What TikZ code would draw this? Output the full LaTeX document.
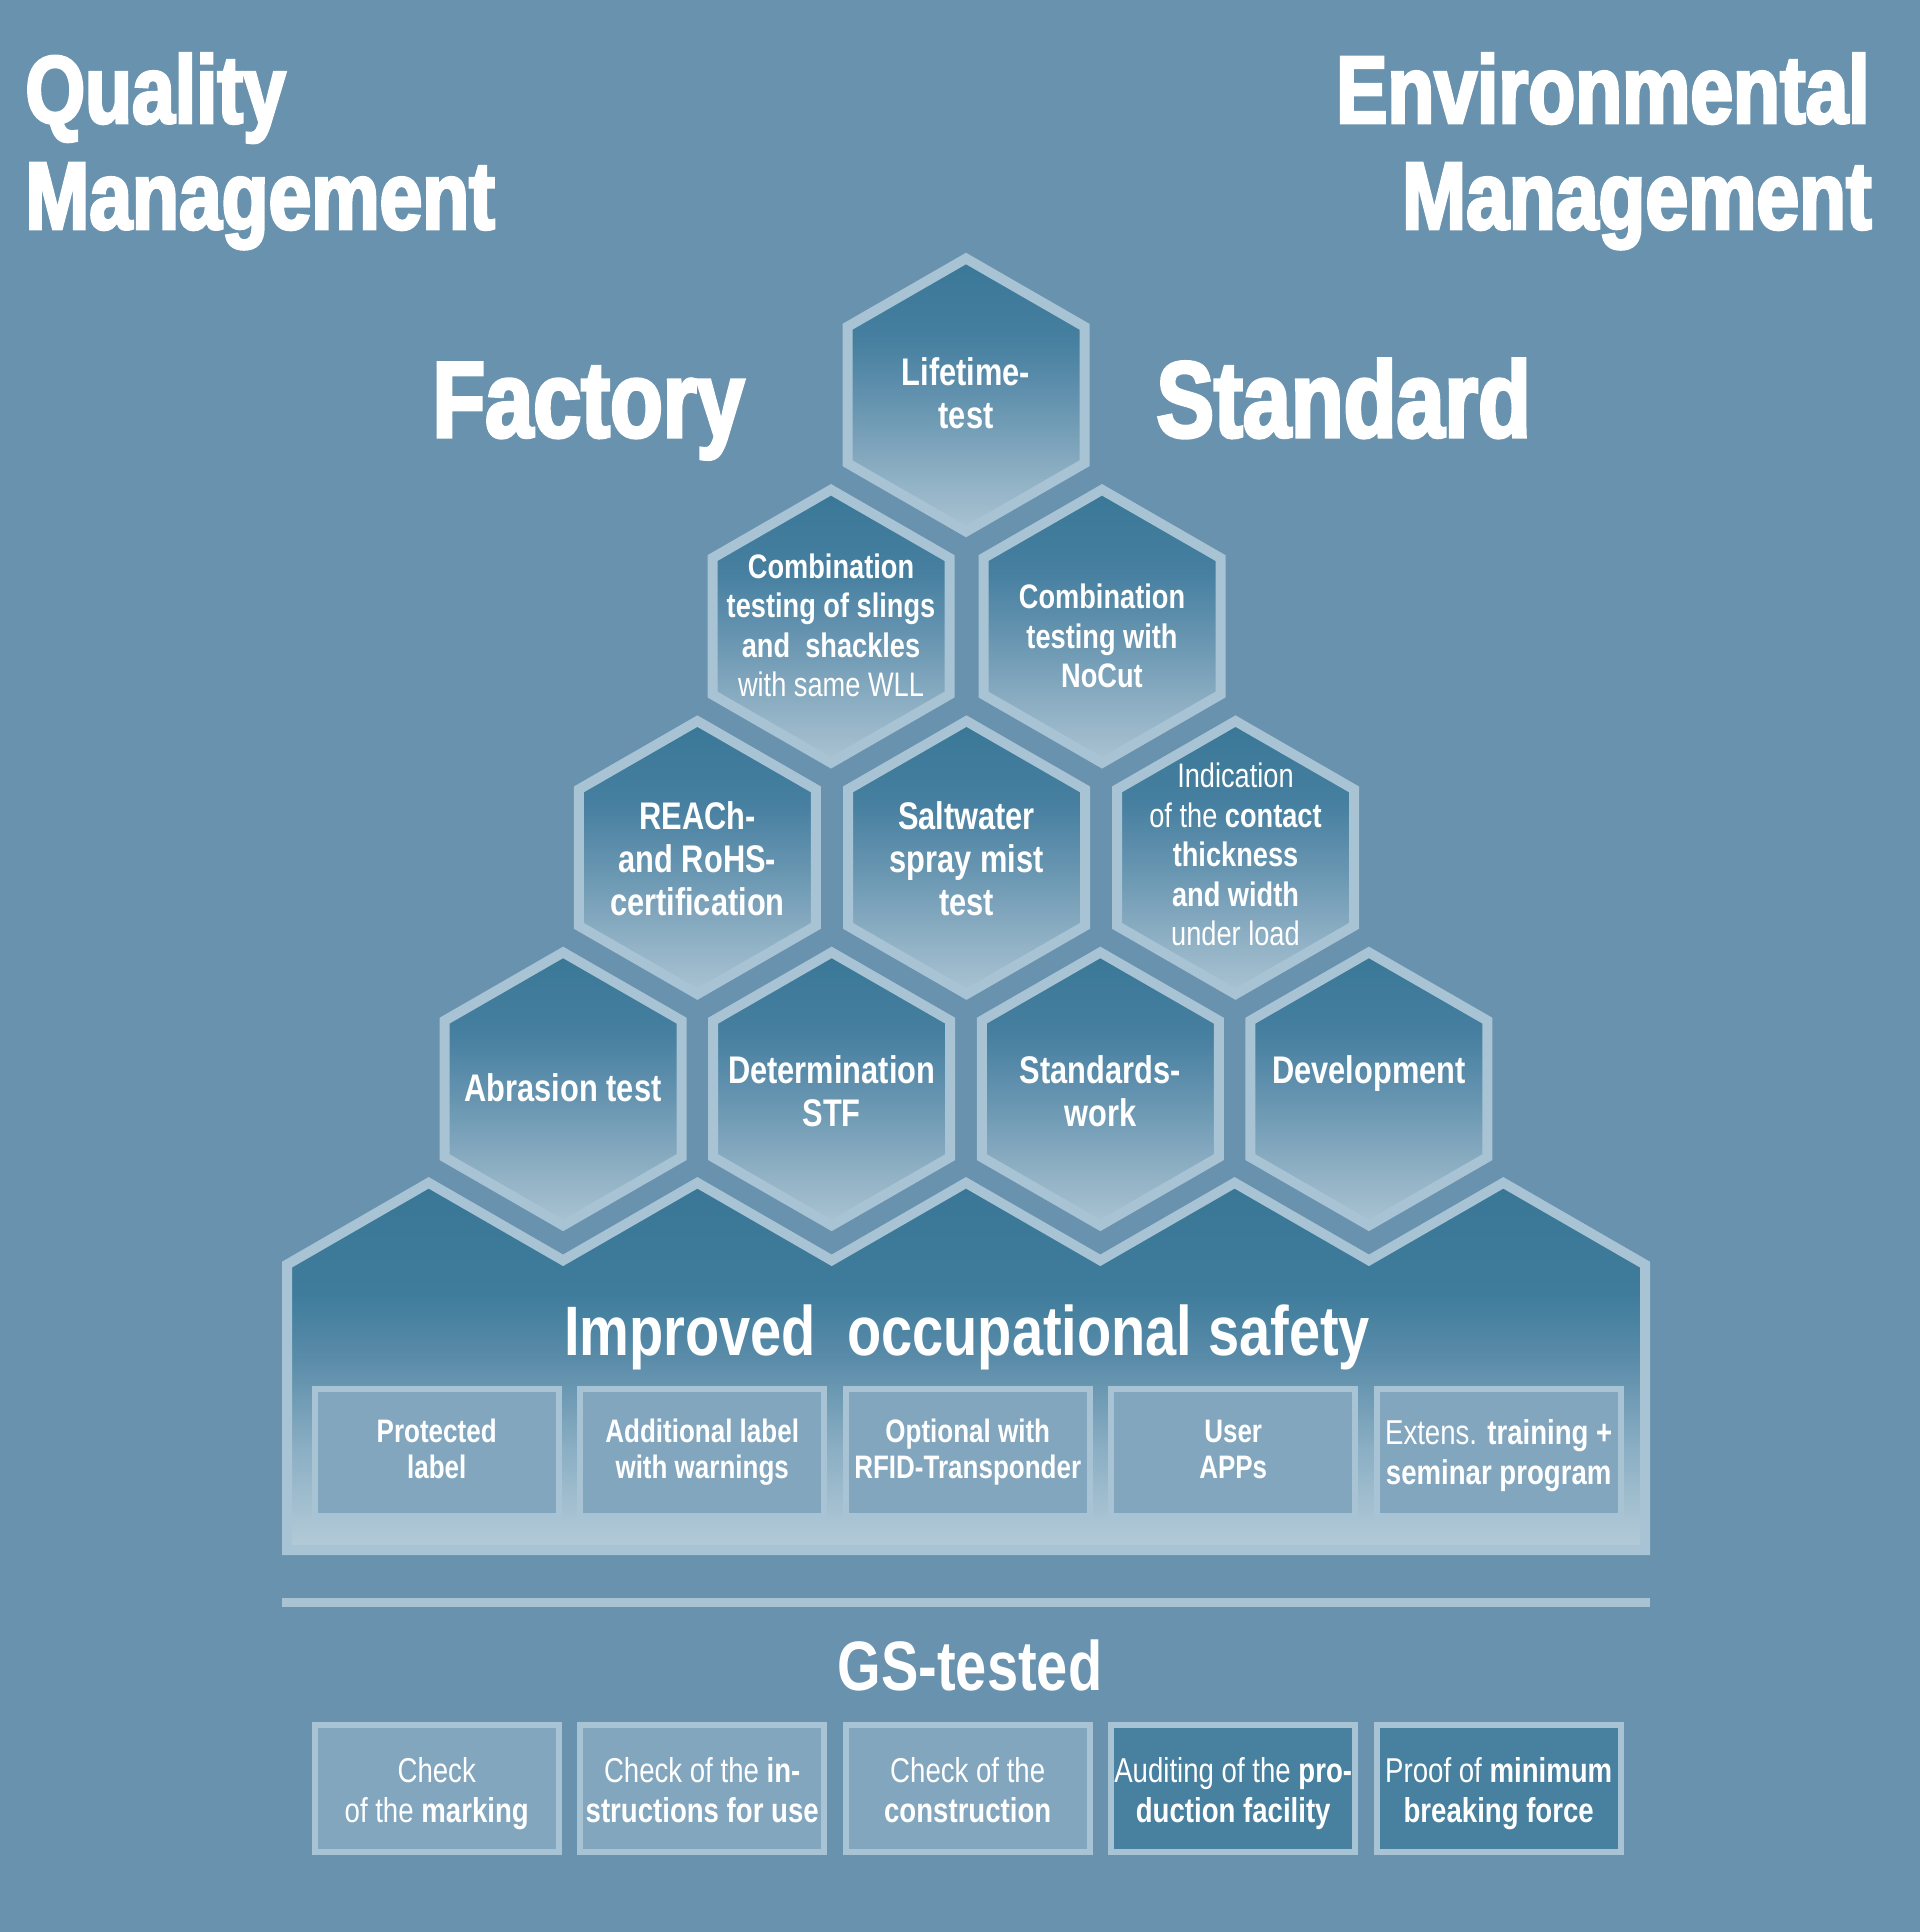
\documentclass[tikz,border=0pt]{standalone}
\usepackage{fontspec}
\setmainfont{Liberation Sans}
\newfontfamily\cf[FakeStretch=0.8]{Liberation Sans}
\newfontfamily\cfh[FakeStretch=0.8, BoldFeatures={FakeBold=3}]{Liberation Sans}
\newcommand\fsz[2]{\fontsize{#1}{#2}\selectfont}
\newcommand\Lt[1]{{\mdseries #1}}
\definecolor{bgc}{HTML}{6892AD}
\definecolor{brd}{HTML}{A8C4D4}
\definecolor{hA}{HTML}{3A7797}
\definecolor{hB}{HTML}{467FA0}
\definecolor{hC}{HTML}{6A97B2}
\definecolor{hD}{HTML}{8FB0C4}
\definecolor{hE}{HTML}{AAC3D2}
\definecolor{bA}{HTML}{3A7797}
\definecolor{bB}{HTML}{3F7C9C}
\definecolor{bC}{HTML}{5A8CA9}
\definecolor{bD}{HTML}{8AAEC3}
\definecolor{bE}{HTML}{B5CCD9}
\definecolor{boxc}{HTML}{82A6BE}
\definecolor{boxd}{HTML}{4880A0}
\pgfdeclareverticalshading{hexsh}{100bp}{color(0bp)=(hE); color(25bp)=(hE); color(35bp)=(hD); color(47bp)=(hC); color(60bp)=(hB); color(75bp)=(hA); color(100bp)=(hA)}
\pgfdeclareverticalshading{basesh}{100bp}{color(0bp)=(bE); color(25bp)=(bE); color(39bp)=(bD); color(51bp)=(bC); color(60bp)=(bB); color(75bp)=(bA); color(100bp)=(bA)}
\newcommand\mkhex[2]{\path[hexcell] (#1,#2-136.5) -- ++(118.5,68.25) -- ++(0,136.5) -- ++(-118.5,68.25) -- ++(-118.5,-68.25) -- ++(0,-136.5) -- cycle;}
\tikzset{
  hexcell/.style={shade, shading=hexsh, draw=brd, line width=5pt},
  basecell/.style={shade, shading=basesh, draw=brd, line width=5pt},
  hextxt/.style={text=white, align=center, inner sep=0pt, font=\cf\bfseries\fsz{19.25pt}{21.5pt}},
  hexsmall/.style={font=\cf\bfseries\fsz{17pt}{19.75pt}},
  title/.style={text=white, inner sep=0pt, font=\cfh\bfseries\fsz{48pt}{53pt}},
  bigtitle/.style={text=white, inner sep=0pt, font=\cfh\bfseries\fsz{54pt}{60pt}},
  headline/.style={text=white, inner sep=0pt, font=\cf\bfseries\fsz{35pt}{40pt}},
  boxshape/.style={draw=brd, fill=boxc, line width=3pt, minimum width=122pt, minimum height=63.5pt, inner sep=0pt},
  boxdark/.style={fill=boxd},
  boxtxt/.style={text=white, align=center, inner sep=0pt, font=\cf\bfseries\fsz{16.25pt}{18pt}},
  boxtxtlo/.style={text=white, align=center, inner sep=0pt, font=\cf\bfseries\fsz{17.25pt}{19.75pt}}
}
\begin{document}
\begin{tikzpicture}[x=0.5pt, y=-0.5pt]
\fill[bgc] (0,0) rectangle (1920,1932);
\useasboundingbox (0,0) rectangle (1920,1932);
% titles
\node[title, anchor=base west] (q1) at (25,123) {Quality};
\node[title, anchor=base west] (q2) at (25,229) {Management};
\node[title, anchor=base east] (e1) at (1870,123) {Environmental};
\node[title, anchor=base east] (e2) at (1872,229) {Management};
\node[bigtitle, anchor=base west] (fac) at (432,437) {Factory};
\node[bigtitle, anchor=base west] (std) at (1156,437) {Standard};
% base
\path[basecell] (287,1264.6) -- (428.7,1182.8) -- (563.05,1260.3) -- (697.4,1182.8) -- (831.7,1260.3) -- (966,1182.8) -- (1100.3,1260.3) -- (1234.6,1182.8) -- (1368.95,1260.3) -- (1503.3,1182.8) -- (1645,1264.6) -- (1645,1550) -- (287,1550) -- cycle;
% hexagons
\mkhex{966}{395}
\mkhex{831}{626.3}
\mkhex{1102}{626.3}
\mkhex{697.4}{857.6}
\mkhex{966.5}{857.6}
\mkhex{1235.5}{857.6}
\mkhex{563.1}{1088.9}
\mkhex{831.7}{1088.9}
\mkhex{1100.3}{1088.9}
\mkhex{1368.9}{1088.9}
% hexagon texts
\node[hextxt] (lifetime) at (966,397.9) {\strut Lifetime-\\\strut test};
\node[hextxt, hexsmall] (combsl) at (831,629.4) {\strut Combination\\\strut testing of slings\\\strut and\ \ shackles\\\strut\Lt{with same WLL}};
\node[hextxt, hexsmall] (nocut) at (1102,640.5) {\strut Combination\\\strut testing with\\\strut NoCut};
\node[hextxt] (reach) at (697.4,864.1) {\strut REACh-\\\strut and RoHS-\\\strut certification};
\node[hextxt] (salt) at (966.5,864.1) {\strut Saltwater\\\strut spray mist\\\strut test};
\node[hextxt, hexsmall] (indic) at (1235.5,858.6) {\strut\Lt{Indication}\\\strut\Lt{of the} contact\\\strut thickness\\\strut and width\\\strut\Lt{under load}};
\node[hextxt] (abr) at (563.1,1093.3) {\strut Abrasion test};
\node[hextxt] (stf) at (831.7,1096) {\strut Determination\\\strut STF};
\node[hextxt] (stdw) at (1100.3,1096) {\strut Standards-\\\strut work};
\node[hextxt, anchor=base] (dev) at (1368.9,1083) {Development};
% base content
\node[headline, anchor=base] (safety) at (967,1355) {Improved\ \ occupational safety};
\node[boxshape] (u1) at (436.7,1452.5) {};
\node[boxshape] (u2) at (702.2,1452.5) {};
\node[boxshape] (u3) at (967.7,1452.5) {};
\node[boxshape] (u4) at (1233.2,1452.5) {};
\node[boxshape] (u5) at (1498.7,1452.5) {};
\node[boxtxt] (u1t) at (436.7,1453.3) {\strut Protected\\\strut label};
\node[boxtxt] (u2t) at (702.2,1453.3) {\strut Additional label\\\strut with warnings};
\node[boxtxt] (u3t) at (967.7,1453.3) {\strut Optional with\\\strut RFID-Transponder};
\node[boxtxt] (u4t) at (1233.2,1453.3) {\strut User\\\strut APPs};
\node[boxtxtlo] (u5t) at (1498.7,1456.5) {\strut\Lt{Extens.} training +\\\strut seminar program};
% separator
\fill[brd] (282,1598) rectangle (1650,1607);
% GS tested
\node[headline, anchor=base] (gs) at (970,1690) {GS-tested};
\node[boxshape] (c1) at (436.7,1788.5) {};
\node[boxshape] (c2) at (702.2,1788.5) {};
\node[boxshape] (c3) at (967.7,1788.5) {};
\node[boxshape, boxdark] (c4) at (1233.2,1788.5) {};
\node[boxshape, boxdark] (c5) at (1498.7,1788.5) {};
\node[boxtxtlo] (c1t) at (436.7,1794.4) {\strut\Lt{Check}\\\strut\Lt{of the} marking};
\node[boxtxtlo] (c2t) at (702.2,1794.4) {\strut\Lt{Check of the} in-\\\strut structions for use};
\node[boxtxtlo] (c3t) at (967.7,1794.4) {\strut\Lt{Check of the}\\\strut construction};
\node[boxtxtlo] (c4t) at (1233.2,1794.4) {\strut\Lt{Auditing of the} pro-\\\strut duction facility};
\node[boxtxtlo] (c5t) at (1498.7,1794.4) {\strut\Lt{Proof of} minimum\\\strut breaking force};
\end{tikzpicture}
\end{document}
